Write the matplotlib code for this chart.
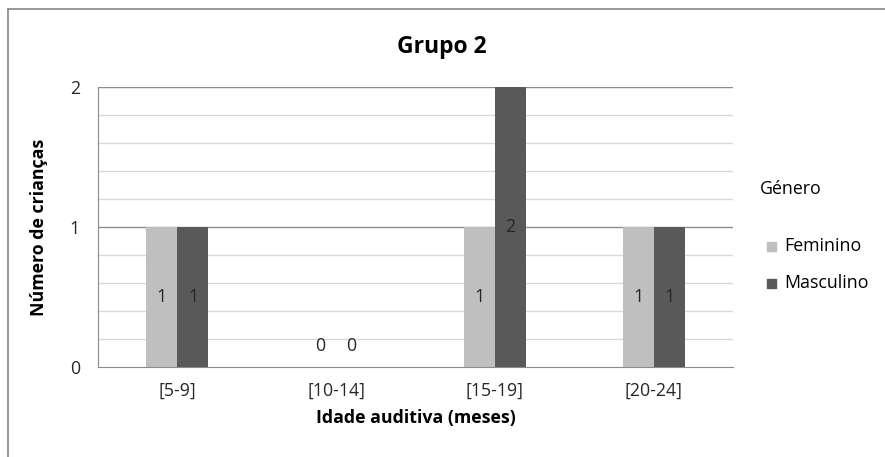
import matplotlib.pyplot as plt
from matplotlib.lines import Line2D
import numpy as np

plt.rcParams['font.family'] = ['Open Sans', 'DejaVu Sans']

categorias = ['[5-9]', '[10-14]', '[15-19]', '[20-24]']
feminino = [1, 0, 1, 1]
masculino = [1, 0, 2, 1]
series = ['Feminino', 'Masculino']
cores = ['#BFBFBF', '#595959']

fig = plt.figure(figsize=(8.85, 4.57), dpi=100)
ax = fig.add_axes([98 / 885, 1 - 367 / 457, 635 / 885, 280 / 457])

x = np.arange(len(categorias))
largura = 0.196
fs = 12.8

# grelha secundaria e principal
for v in np.arange(0.2, 2.0, 0.2):
    if abs(v - 1) > 1e-6:
        ax.axhline(v, color='#D9D9D9', lw=1, zorder=0)
for v in [1, 2]:
    ax.axhline(v, color='#8C8C8C', lw=1, zorder=0)

b1 = ax.bar(x - largura / 2, feminino, largura, color=cores[0], zorder=2)
b2 = ax.bar(x + largura / 2, masculino, largura, color=cores[1], zorder=2)

for barras, vals in [(b1, feminino), (b2, masculino)]:
    for r, v in zip(barras, vals):
        y = v / 2 if v > 0 else 0.15
        ax.text(r.get_x() + r.get_width() / 2, y, str(v), ha='center', va='center',
                fontsize=fs, color='#262626', zorder=3)

ax.set_xlim(-0.5, len(categorias) - 0.5)
ax.set_ylim(0, 2)
ax.set_yticks([0, 1, 2])
ax.set_xticks(x)
ax.set_xticklabels(categorias)
ax.tick_params(axis='both', length=0, labelsize=fs, colors='#262626')
ax.tick_params(axis='y', pad=13)
ax.tick_params(axis='x', pad=11)

for s in ['top', 'right']:
    ax.spines[s].set_visible(False)
ax.spines['left'].set_color('#8C8C8C')
ax.spines['bottom'].set_color('#8C8C8C')

ax.set_ylabel('Número de crianças', fontsize=fs, fontweight='bold')
ax.yaxis.set_label_coords((48 - 98) / 635, 0.5)
ax.set_xlabel('Idade auditiva (meses)', fontsize=fs, fontweight='bold')
ax.xaxis.set_label_coords(0.5, (367 - 409) / 280)
fig.text(442 / 885, 1 - 47 / 457, 'Grupo 2', ha='center', va='center',
         fontsize=16.5, fontweight='bold')

# legenda
fig.text(760 / 885, 1 - 189 / 457, 'Género', ha='left', va='center', fontsize=fs)
for i, (nome, cor) in enumerate(zip(series, cores)):
    yy = 1 - (246 + 37 * i) / 457
    fig.patches.append(plt.Rectangle((767 / 885, yy - 4.5 / 457), 9 / 885, 9 / 457,
                                     transform=fig.transFigure, color=cor))
    fig.text(784 / 885, yy, nome, ha='left', va='center', fontsize=fs)

# moldura do grafico
fig.add_artist(Line2D([7.5 / 885, 1], [1 - 9 / 457, 1 - 9 / 457], color='#868686', lw=1.2))
fig.add_artist(Line2D([7.5 / 885, 7.5 / 885], [0, 1 - 9 / 457], color='#868686', lw=1.2))

fig.savefig('out.png', dpi=100)
